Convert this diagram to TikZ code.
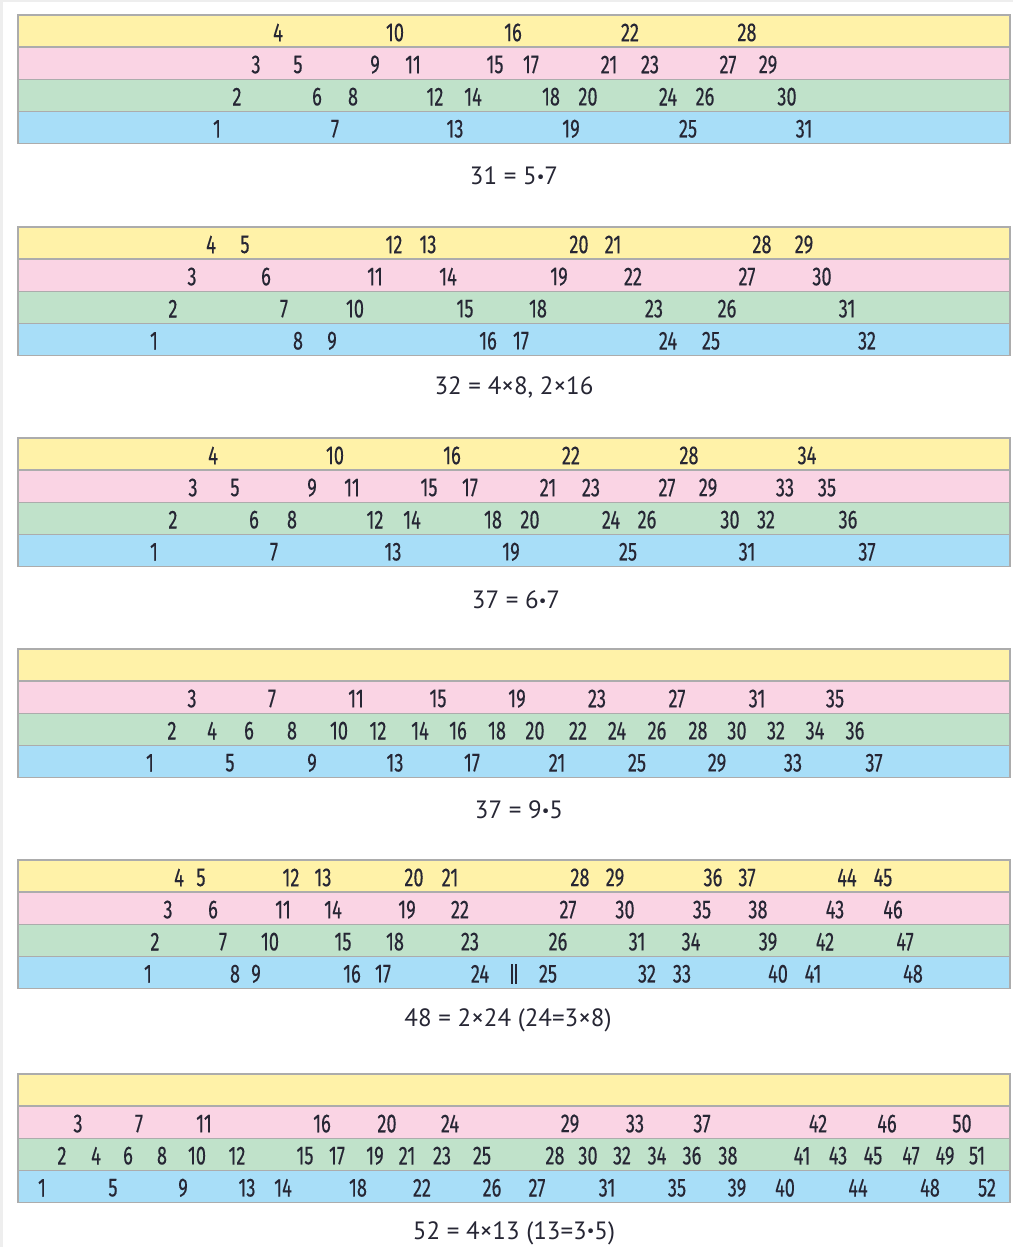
\documentclass[tikz,border=0pt]{standalone}
\usepackage{fontspec}
\setmainfont{PT Sans}
\newfontfamily\numfont[FakeStretch=0.7,FakeBold=0.3]{Fira Sans}
\newcommand\smalldot{\raisebox{2.2pt}{\fontsize{17}{17}\selectfont•}}
\definecolor{bandyellow}{RGB}{255,242,168}
\definecolor{bandpink}{RGB}{250,212,228}
\definecolor{bandgreen}{RGB}{192,226,202}
\definecolor{bandblue}{RGB}{168,222,248}
\definecolor{bandline}{RGB}{172,172,172}
\definecolor{numtext}{RGB}{38,38,52}
\definecolor{framegray}{RGB}{238,238,238}
\begin{document}
\begin{tikzpicture}[x=1pt,y=-1pt,
  band/.style={draw=bandline,line width=1.3pt},
  num/.style={font=\numfont\fontsize{26}{26}\selectfont,text=numtext,inner sep=0pt,anchor=center},
  caption/.style={font=\fontsize{25}{25}\selectfont,text=numtext,inner sep=0pt,anchor=center},
  sepbar/.style={draw=numtext,line width=1.8pt}]

% page with a thin grey edge at top and left
\fill[framegray] (0,0) rectangle (1013,1247);
\fill[white] (3,2) rectangle (1013,1247);
\useasboundingbox (0,0) rectangle (1013,1247);

% four coloured bands per strip
\foreach \t in {15,227,438,649,860,1074} {
  \filldraw[band,fill=bandyellow] (18,\t) rectangle (1010,{\t+32.1});
  \filldraw[band,fill=bandpink]   (18,{\t+32.1}) rectangle (1010,{\t+64.2});
  \filldraw[band,fill=bandgreen]  (18,{\t+64.2}) rectangle (1010,{\t+96.3});
  \filldraw[band,fill=bandblue]   (18,{\t+96.3}) rectangle (1010,{\t+128.5});
}

% strip 1 : 31 = 5*7
\foreach \n/\r/\x in {4/0/278,10/0/395,16/0/513,22/0/630,28/0/747,
  3/1/256,5/1/298,9/1/375,11/1/413,15/1/495,17/1/531,21/1/609,23/1/650,27/1/728,29/1/768,
  2/2/237,6/2/317,8/2/353,12/2/435,14/2/473,18/2/551,20/2/588,24/2/668,26/2/705,30/2/787,
  1/3/217,7/3/335,13/3/455,19/3/571,25/3/688,31/3/804}
  \node[num] (a\n) at (\x,{15+17.5+32.1*\r}) {\n};
\node[caption] (capa) at (514,176) {31 = 5\smalldot7};

% strip 2 : 32 = 4x8, 2x16
\foreach \n/\r/\x in {4/0/211,5/0/245,12/0/394,13/0/428,20/0/579,21/0/613,28/0/762,29/0/804,
  3/1/192,6/1/266,11/1/375,14/1/448,19/1/559,22/1/633,27/1/747,30/1/822,
  2/2/173,7/2/284,10/2/355,15/2/465,18/2/538,23/2/654,26/2/727,31/2/847,
  1/3/154,8/3/298,9/3/332,16/3/488,17/3/521,24/3/668,25/3/711,32/3/867}
  \node[num] (b\n) at (\x,{227+17.5+32.1*\r}) {\n};
\node[caption] (capb) at (514,387) {32 = 4×8, 2×16};

% strip 3 : 37 = 6*7
\foreach \n/\r/\x in {4/0/213,10/0/335,16/0/452,22/0/571,28/0/689,34/0/807,
  3/1/193,5/1/235,9/1/312,11/1/352,15/1/429,17/1/470,21/1/548,23/1/591,27/1/667,29/1/708,33/1/785,35/1/827,
  2/2/173,6/2/254,8/2/292,12/2/375,14/2/412,18/2/493,20/2/530,24/2/611,26/2/647,30/2/730,32/2/766,36/2/848,
  1/3/154,7/3/274,13/3/393,19/3/511,25/3/628,31/3/747,37/3/867}
  \node[num] (c\n) at (\x,{438+17.5+32.1*\r}) {\n};
\node[caption] (capc) at (516,600) {37 = 6\smalldot7};

% strip 4 : 37 = 9*5
\foreach \n/\r/\x in {3/1/192,7/1/272,11/1/356,15/1/438,19/1/517,23/1/597,27/1/677,31/1/757,35/1/835,
  2/2/172,4/2/212,6/2/249,8/2/292,10/2/339,12/2/378,14/2/420,16/2/458,18/2/497,20/2/535,
  22/2/578,24/2/617,26/2/657,28/2/698,30/2/737,32/2/776,34/2/815,36/2/855,
  1/3/150,5/3/230,9/3/312,13/3/395,17/3/472,21/3/557,25/3/637,29/3/717,33/3/793,37/3/874}
  \node[num] (d\n) at (\x,{649+17.5+32.1*\r}) {\n};
\node[caption] (capd) at (519,810) {37 = 9\smalldot5};

% strip 5 : 48 = 2x24 (24=3x8)
\foreach \n/\r/\x in {4/0/179,5/0/201,12/0/291,13/0/323,20/0/414,21/0/450,28/0/580,29/0/615,36/0/713,37/0/747,44/0/847,45/0/883,
  3/1/168,6/1/213,11/1/283,14/1/333,19/1/407,22/1/460,27/1/568,30/1/625,35/1/702,38/1/758,43/1/835,46/1/893,
  2/2/155,7/2/223,10/2/270,15/2/343,18/2/395,23/2/470,26/2/558,31/2/637,34/2/691,39/2/768,42/2/825,47/2/905,
  1/3/148,8/3/235,9/3/256,16/3/352,17/3/383,24/3/480,25/3/548,32/3/647,33/3/682,40/3/778,41/3/813,48/3/913}
  \node[num] (e\n) at (\x,{860+17.5+32.1*\r}) {\n};
\coordinate (ehalf) at (514,{860+17.5+32.1*3});
\draw[sepbar] ([xshift=-2.3pt,yshift=-10pt]ehalf) -- ([xshift=-2.3pt,yshift=10pt]ehalf);
\draw[sepbar] ([xshift=2.3pt,yshift=-10pt]ehalf) -- ([xshift=2.3pt,yshift=10pt]ehalf);
\node[caption] (cape) at (508,1020) {48 = 2×24 (24=3×8)};

% strip 6 : 52 = 4x13 (13=3*5)
\foreach \n/\r/\x in {3/1/78,7/1/139,11/1/204,16/1/322,20/1/387,24/1/450,29/1/570,33/1/635,37/1/702,42/1/818,46/1/887,50/1/962,
  2/2/62,4/2/96,6/2/128,8/2/162,10/2/197,12/2/237,15/2/305,17/2/337,19/2/375,21/2/407,23/2/442,25/2/482,
  28/2/555,30/2/588,32/2/622,34/2/657,36/2/692,38/2/728,41/2/802,43/2/838,45/2/873,47/2/911,49/2/945,51/2/977,
  1/3/42,5/3/113,9/3/183,13/3/247,14/3/283,18/3/358,22/3/422,26/3/492,27/3/537,31/3/607,35/3/677,39/3/737,
  40/3/785,44/3/858,48/3/930,52/3/987}
  \node[num] (f\n) at (\x,{1074+17.5+32.1*\r}) {\n};
\node[caption] (capf) at (514,1233) {52 = 4×13 (13=3\smalldot5)};
\end{tikzpicture}
\end{document}
